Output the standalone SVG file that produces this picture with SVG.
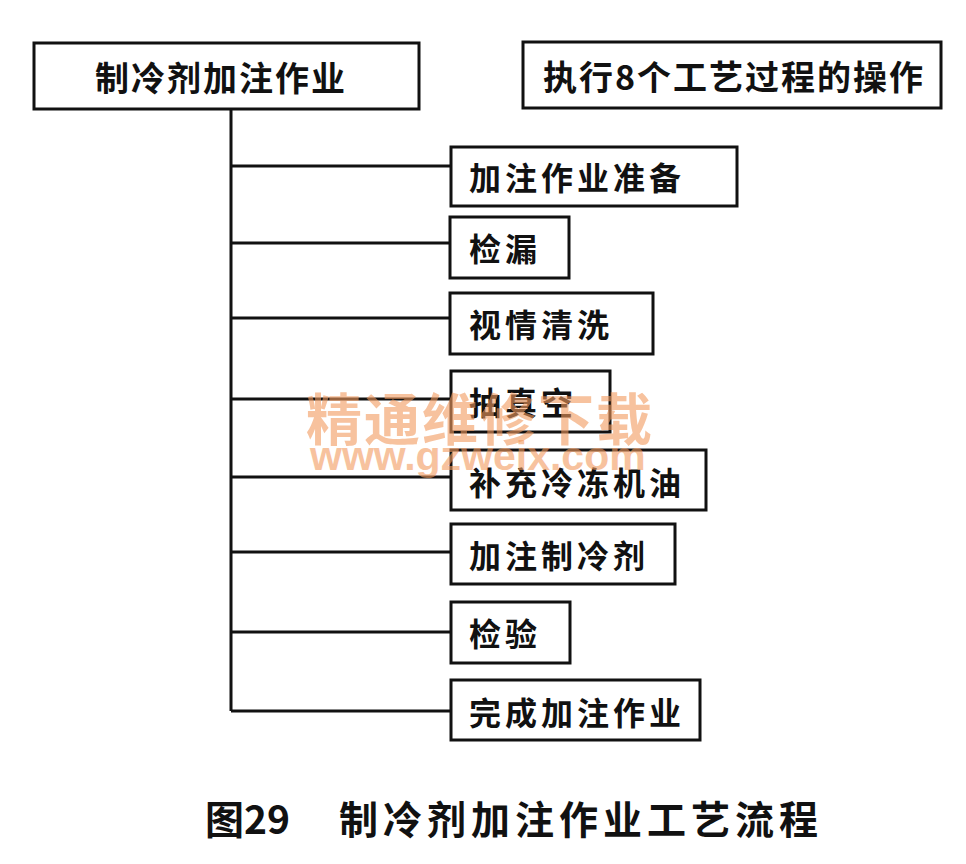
<svg xmlns="http://www.w3.org/2000/svg" width="966" height="864" viewBox="0 0 966 864">
<style>
.box{fill:#fff;stroke:#111;stroke-width:3}
.lbl{font-family:"Noto Sans CJK SC","Noto Sans CJK JP",sans-serif;font-weight:700;fill:#111;dominant-baseline:central}
.big{font-size:34px;letter-spacing:2px}
.sm{font-size:32px;letter-spacing:4px}
.conn{stroke:#111;stroke-width:3;fill:none}
.wm{font-family:"Noto Sans CJK SC",sans-serif;font-weight:700;fill:#f39a5e;opacity:0.6;font-size:56px;letter-spacing:2px}
.wm2{font-family:"Liberation Sans",Arial,sans-serif;font-weight:700;fill:#f39a5e;opacity:0.6;font-size:41px}
.cap{font-family:"Noto Sans CJK SC",sans-serif;font-weight:700;fill:#111;font-size:39px}
</style>
<rect width="966" height="864" fill="#fff"/>
<g id="connectors">
<path class="conn" d="M231 109 V711"/>
<path class="conn" d="M231 166 H451"/>
<path class="conn" d="M231 243 H451"/>
<path class="conn" d="M231 318 H451"/>
<path class="conn" d="M231 399 H451"/>
<path class="conn" d="M231 477 H451"/>
<path class="conn" d="M231 552 H451"/>
<path class="conn" d="M231 632 H451"/>
<path class="conn" d="M231 711 H451"/>
</g>
<g id="root">
<rect class="box" x="34" y="43" width="385" height="66"/>
<text class="lbl big" x="95" y="76">制冷剂加注作业</text>
</g>
<g id="note">
<rect class="box" x="523" y="42" width="418" height="66"/>
<text class="lbl big" x="543" y="75">执行8个工艺过程的操作</text>
</g>
<g id="n1">
<rect class="box" x="451" y="147" width="286" height="59"/>
<text class="lbl sm" x="469" y="176">加注作业准备</text>
</g>
<g id="n2">
<rect class="box" x="450" y="217" width="119" height="61"/>
<text class="lbl sm" x="469" y="247">检漏</text>
</g>
<g id="n3">
<rect class="box" x="450" y="293" width="203" height="61"/>
<text class="lbl sm" x="469" y="323">视情清洗</text>
</g>
<g id="n4">
<rect class="box" x="451" y="371" width="159" height="61"/>
<text class="lbl sm" x="469" y="401">抽真空</text>
</g>
<g id="n5">
<rect class="box" x="451" y="450" width="255" height="60"/>
<text class="lbl sm" x="469" y="481">补充冷冻机油</text>
</g>
<g id="n6">
<rect class="box" x="451" y="524" width="224" height="60"/>
<text class="lbl sm" x="469" y="554">加注制冷剂</text>
</g>
<g id="n7">
<rect class="box" x="451" y="602" width="119" height="61"/>
<text class="lbl sm" x="469" y="632">检验</text>
</g>
<g id="n8">
<rect class="box" x="451" y="680" width="249" height="60"/>
<text class="lbl sm" x="469" y="711">完成加注作业</text>
</g>
<g id="watermark">
<text class="wm" x="306" y="440">精通维修下载</text>
<text class="wm2" x="310" y="470">www.gzweix.com</text>
</g>
<g id="caption">
<text class="cap" x="205" y="834">图29</text>
<text class="cap" x="339" y="834" letter-spacing="5">制冷剂加注作业工艺流程</text>
</g>
</svg>
